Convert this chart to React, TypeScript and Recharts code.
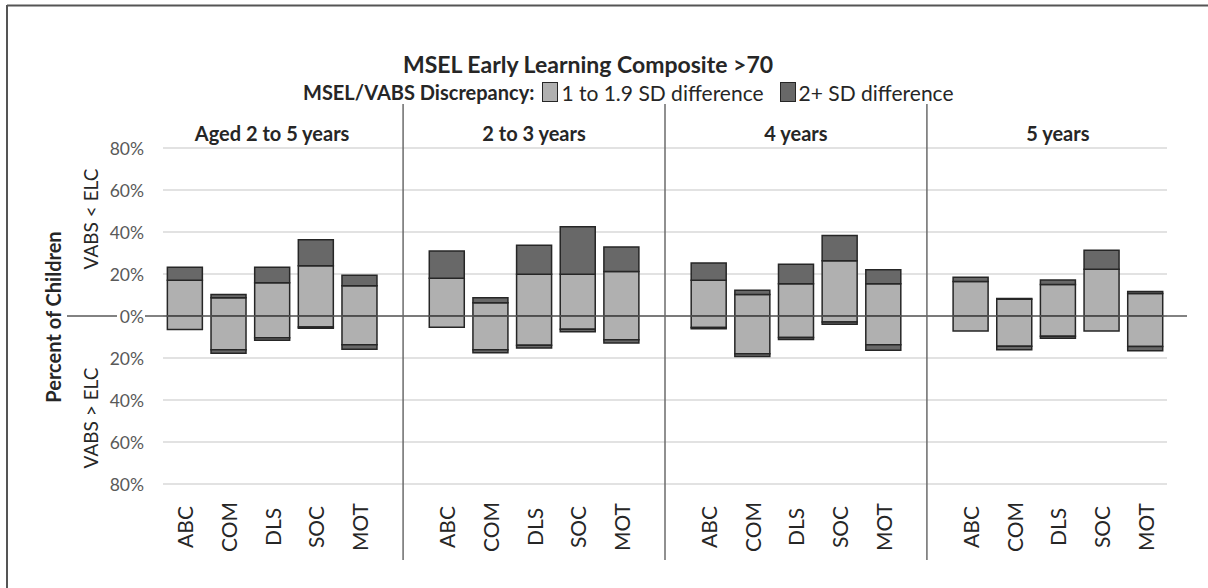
import React from "react";
import {
  BarChart,
  Bar,
  XAxis,
  YAxis,
  CartesianGrid,
  ReferenceLine,
} from "recharts";

const ageGroups = ["Aged 2 to 5 years", "2 to 3 years", "4 years", "5 years"];
const domains = ["ABC", "COM", "DLS", "SOC", "MOT"];
const yTicks = [-80, -60, -40, -20, 0, 20, 40, 60, 80];

// VABS < ELC (drawn above 0), one row per age group, ABC..MOT
const aboveMild = [
  [17.0, 8.7, 15.8, 23.9, 14.4],
  [18.0, 6.3, 19.9, 19.9, 21.2],
  [17.0, 10.2, 15.3, 26.3, 15.3],
  [16.4, 8.0, 15.0, 22.3, 10.7],
];
const aboveSevere = [
  [6.2, 1.5, 7.4, 12.4, 5.0],
  [13.0, 2.4, 13.8, 22.6, 11.7],
  [8.2, 2.1, 9.4, 12.0, 6.7],
  [2.1, 0.3, 2.2, 9.0, 1.0],
];
// VABS > ELC (drawn below 0)
const belowMild = [
  [6.4, 16.1, 10.4, 5.2, 13.7],
  [5.3, 16.1, 13.9, 6.3, 11.3],
  [5.5, 18.0, 10.2, 2.8, 13.7],
  [7.1, 14.4, 9.6, 7.1, 14.5],
];
const belowSevere = [
  [0, 1.6, 1.1, 0.6, 2.1],
  [0, 1.4, 1.3, 1.2, 1.5],
  [0.6, 1.3, 1.0, 1.1, 2.6],
  [0, 1.7, 1.0, 0, 2.1],
];

const LIGHT = "#b0b0b0";
const DARK = "#686868";
const EDGE = "#262626";
const TEXT = "#262626";
const AXIS_TEXT = "#595959";
const FONT = "Lato, 'Open Sans', sans-serif";

type Row = {
  key: string;
  domain?: string;
  group?: string;
  center?: boolean;
  aMild?: number | null;
  aSevere?: number | null;
  bMild?: number | null;
  bSevere?: number | null;
};

const orNull = (v: number) => (v ? v : null);

// one empty slot between age groups, like the original layout
const rows: Row[] = [];
ageGroups.forEach((g, gi) => {
  domains.forEach((d, di) => {
    rows.push({
      key: `${gi}-${d}`,
      domain: d,
      group: g,
      center: di === 2,
      aMild: orNull(aboveMild[gi][di]),
      aSevere: orNull(aboveSevere[gi][di]),
      bMild: belowMild[gi][di] ? -belowMild[gi][di] : null,
      bSevere: belowSevere[gi][di] ? -belowSevere[gi][di] : null,
    });
  });
  if (gi < ageGroups.length - 1) rows.push({ key: `gap${gi}` });
});
const gapKeys = rows.filter((r) => !r.domain).map((r) => r.key);

const findRow = (value: any) => rows.find((r) => r.key === value);

const DomainTick = (props: any) => {
  const { x, y, payload } = props;
  const row = findRow(payload.value);
  if (!row || !row.domain) return <g />;
  return (
    <text
      transform={`translate(${x},${y + 43}) rotate(-90)`}
      textAnchor="middle"
      dominantBaseline="central"
      fontFamily={FONT}
      fontSize={21}
      fill={TEXT}
    >
      {row.domain}
    </text>
  );
};

const GroupTick = (props: any) => {
  const { x, y, payload } = props;
  const row = findRow(payload.value);
  if (!row || !row.center) return <g />;
  return (
    <text
      x={x}
      y={y - 15}
      textAnchor="middle"
      dominantBaseline="central"
      fontFamily={FONT}
      fontWeight={700}
      fontSize={20}
      fill={TEXT}
    >
      {row.group}
    </text>
  );
};

const PercentTick = (props: any) => {
  const { x, y, payload } = props;
  return (
    <text
      x={x}
      y={y}
      textAnchor="end"
      dominantBaseline="central"
      fontFamily={FONT}
      fontSize={17.5}
      fill={AXIS_TEXT}
    >
      {`${Math.abs(payload.value)}%`}
    </text>
  );
};

// separators run past the plot, up to the headings and down through the labels
const Separator = (props: any) => {
  const { x1, y1, y2 } = props;
  const top = Math.min(y1, y2);
  const bottom = Math.max(y1, y2);
  return (
    <line x1={x1} x2={x1} y1={top - 44} y2={bottom + 76} stroke="#6b6b6b" strokeWidth={1.5} />
  );
};

// zero line reaches left under the axis title, broken by the "0%" label
const ZeroLine = (props: any) => {
  const { x1, x2, y1 } = props;
  const left = Math.min(x1, x2);
  const right = Math.max(x1, x2);
  return (
    <g stroke="#595959" strokeWidth={1.5}>
      <line x1={left - 96} x2={left - 46} y1={y1} y2={y1} />
      <line x1={left - 18} x2={right + 20} y1={y1} y2={y1} />
    </g>
  );
};

const Swatch = ({ color }: { color: string }) => (
  <span
    style={{
      display: "inline-block",
      width: 14,
      height: 18,
      background: color,
      border: `1.5px solid ${EDGE}`,
      marginRight: 3,
    }}
  />
);

export default function App() {
  return (
    <div
      style={{
        position: "absolute",
        left: 0,
        top: 0,
        width: 1208,
        height: 588,
        background: "#fff",
        overflow: "hidden",
        fontFamily: FONT,
      }}
    >
      <BarChart
        width={1208}
        height={588}
        data={rows}
        stackOffset="sign"
        barCategoryGap="10%"
        margin={{ top: 118, right: 41, bottom: 28, left: 103 }}
      >
        <CartesianGrid stroke="#d9d9d9" strokeWidth={1.5} vertical={false} />
        <XAxis
          dataKey="key"
          interval={0}
          axisLine={false}
          tickLine={false}
          tickSize={0}
          tickMargin={0}
          height={76}
          tick={DomainTick}
        />
        <XAxis
          xAxisId="top"
          orientation="top"
          dataKey="key"
          interval={0}
          axisLine={false}
          tickLine={false}
          tickSize={0}
          tickMargin={0}
          height={30}
          tick={GroupTick}
        />
        <YAxis
          type="number"
          domain={[-80, 80]}
          ticks={yTicks}
          interval={0}
          axisLine={false}
          tickLine={false}
          tickSize={0}
          tickMargin={19}
          width={60}
          tick={PercentTick}
        />
        <Bar dataKey="aMild" stackId="s" fill={LIGHT} stroke={EDGE} strokeWidth={1.5} isAnimationActive={false} />
        <Bar dataKey="aSevere" stackId="s" fill={DARK} stroke={EDGE} strokeWidth={1.5} isAnimationActive={false} />
        <Bar dataKey="bMild" stackId="s" fill={LIGHT} stroke={EDGE} strokeWidth={1.5} isAnimationActive={false} />
        <Bar dataKey="bSevere" stackId="s" fill={DARK} stroke={EDGE} strokeWidth={1.5} isAnimationActive={false} />
        <ReferenceLine y={0} shape={ZeroLine} />
        {gapKeys.map((k) => (
          <ReferenceLine key={k} x={k} shape={Separator} />
        ))}
      </BarChart>

      <svg
        width={1208}
        height={588}
        style={{ position: "absolute", left: 0, top: 0, pointerEvents: "none" }}
      >
        <line x1={7} x2={1208} y1={5.5} y2={5.5} stroke="#555" strokeWidth={2} />
        <line x1={7} x2={7} y1={5} y2={588} stroke="#555" strokeWidth={2} />
        <text
          transform="translate(53,317) rotate(-90)"
          textAnchor="middle"
          dominantBaseline="central"
          fontFamily={FONT}
          fontWeight={700}
          fontSize={20}
          fill={TEXT}
        >
          Percent of Children
        </text>
        <text
          transform="translate(90,219) rotate(-90)"
          textAnchor="middle"
          dominantBaseline="central"
          fontFamily={FONT}
          fontSize={19}
          fill={TEXT}
        >
          {"VABS < ELC"}
        </text>
        <text
          transform="translate(90,418) rotate(-90)"
          textAnchor="middle"
          dominantBaseline="central"
          fontFamily={FONT}
          fontSize={19}
          fill={TEXT}
        >
          {"VABS > ELC"}
        </text>
      </svg>

      <div
        style={{
          position: "absolute",
          left: 0,
          top: 49,
          width: 1176,
          textAlign: "center",
          fontWeight: 700,
          fontSize: 23,
          lineHeight: "30px",
          color: TEXT,
        }}
      >
        MSEL Early Learning Composite &gt;70
      </div>
      <div
        style={{
          position: "absolute",
          left: 303,
          top: 78,
          height: 28,
          display: "flex",
          alignItems: "center",
          fontSize: 21,
          color: TEXT,
          whiteSpace: "nowrap",
        }}
      >
        <span style={{ fontWeight: 700, fontSize: 20, marginRight: 8 }}>MSEL/VABS Discrepancy:</span>
        <Swatch color={LIGHT} />
        <span style={{ marginRight: 16 }}>1 to 1.9 SD difference</span>
        <Swatch color={DARK} />
        <span>2+ SD difference</span>
      </div>
    </div>
  );
}
